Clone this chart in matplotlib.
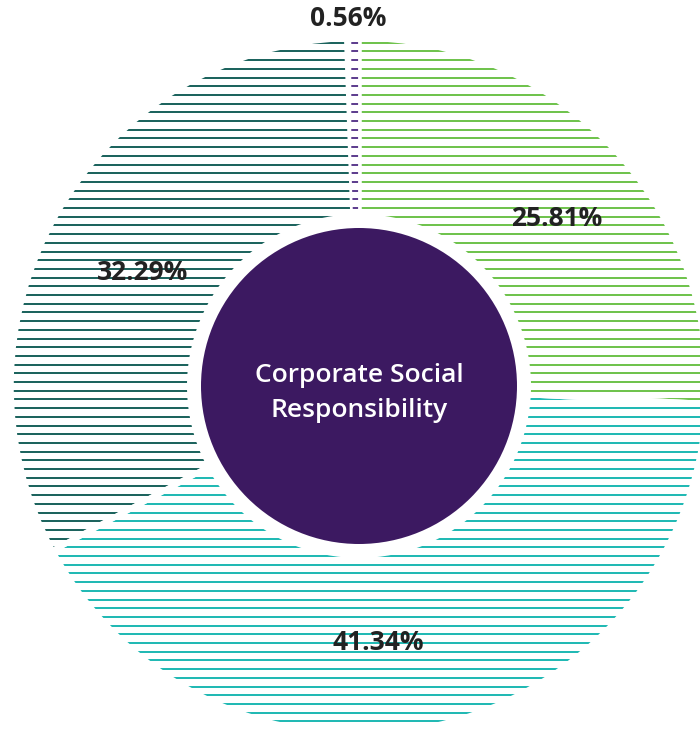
import numpy as np
import matplotlib.pyplot as plt
from matplotlib.patches import Circle

# ---- Data ---- #
labels = ["25.81%", "41.34%", "32.29%", "0.56%"]
values = [25.81, 41.34, 32.29, 0.56]
colors = ["#6cc24a", "#1cb8b2", "#17605a", "#5b3a8c"]
styles = ["solid", "solid", "solid", (0, (3.5, 3.5))]
center_text = "Corporate Social\nResponsibility"

W, H = 700, 729
cx, cy = 359, H - 386
R = 348
r_hole = 172
r_inner = 158
spacing = 8.7

fig = plt.figure(figsize=(W / 100, H / 100), dpi=100)
ax = fig.add_axes([0, 0, 1, 1])

wedges, _ = ax.pie(values, startangle=90, counterclock=False,
                   radius=R, center=(cx, cy), frame=True,
                   wedgeprops=dict(facecolor="none", edgecolor="white", linewidth=4))
ax.set_xlim(0, W)
ax.set_ylim(0, H)
ax.set_aspect("equal")
ax.axis("off")

ys = np.arange(cy - R, cy + R, spacing) + 4
for w, col, ls in zip(wedges, colors, styles):
    w.set_zorder(3)
    # the tiny slice is drawn above the white gaps so it stays visible
    z = 3.5 if ls != "solid" else 2
    lines = ax.hlines(ys, cx - R, cx + R, colors=col, linewidth=1.4,
                      linestyles=ls, zorder=z)
    lines.set_clip_path(w)
wedges[-1].set_edgecolor("none")

ax.add_patch(Circle((cx, cy), r_hole, facecolor="white", edgecolor="none", zorder=4))
ax.add_patch(Circle((cx, cy), r_inner, facecolor="#3c1961", edgecolor="none", zorder=5))
ax.text(cx, cy - 7, center_text, ha="center", va="center", color="white",
        fontsize=19, fontfamily="Open Sans", fontweight="semibold", linespacing=1.5, zorder=6)

# label positions (pixel coords, y from top)
label_pos = [(557, 218), (378, 642), (143, 272), (348, 18)]
for lab, (x, y) in zip(labels, label_pos):
    ax.text(x, H - y, lab, ha="center", va="center", color="#222222",
            fontsize=19, fontfamily="Open Sans", fontweight="bold", zorder=7)

fig.savefig("out.png", dpi=100, facecolor="white")
